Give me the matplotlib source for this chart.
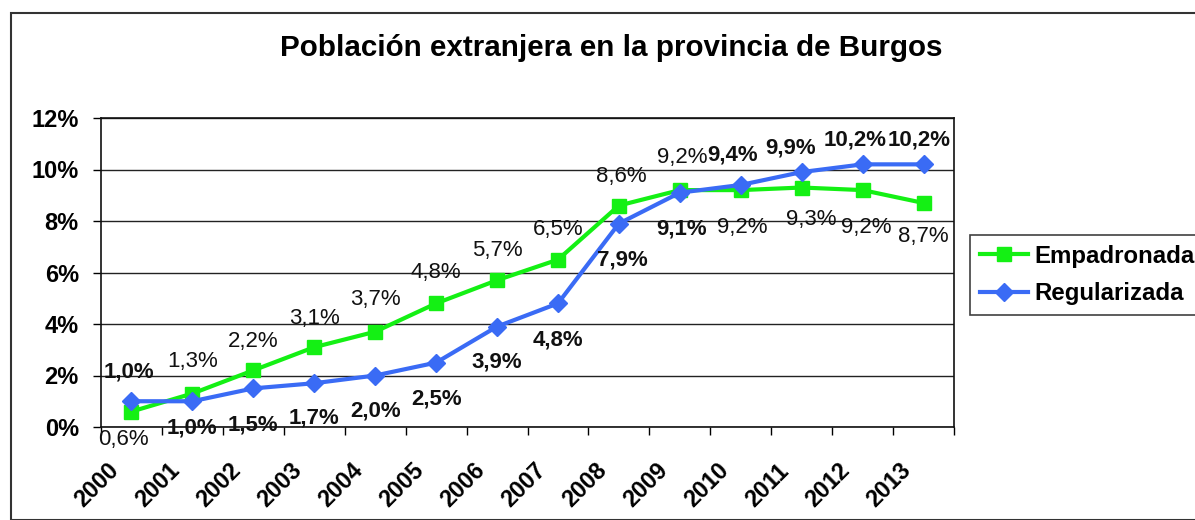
import matplotlib.pyplot as plt
from matplotlib.patches import Rectangle
from matplotlib.ticker import FuncFormatter, MultipleLocator

plt.rcParams['font.family'] = ['Liberation Sans', 'DejaVu Sans']

years = ['2000', '2001', '2002', '2003', '2004', '2005', '2006',
         '2007', '2008', '2009', '2010', '2011', '2012', '2013']
empadronada = [0.6, 1.3, 2.2, 3.1, 3.7, 4.8, 5.7, 6.5, 8.6, 9.2, 9.2, 9.3, 9.2, 8.7]
regularizada = [1.0, 1.0, 1.5, 1.7, 2.0, 2.5, 3.9, 4.8, 7.9, 9.1, 9.4, 9.9, 10.2, 10.2]

# label offsets in pixels (dx, dy), dy up
emp_off = [(-8, -28), (0, 32), (0, 29), (0, 29), (0, 32), (0, 31), (0, 30),
           (0, 30), (2, 29), (2, 33), (2, -37), (10, -32), (4, -37), (0, -34)]
reg_off = [(-3, 29), (0, -27), (0, -37), (0, -35), (0, -35), (0, -36), (0, -35),
           (0, -37), (3, -36), (2, -36), (-8, 30), (-11, 24), (-7, 24), (-4, 24)]

green = '#14F014'
blue = '#3A6BF5'

fig = plt.figure(figsize=(11.95, 5.2), dpi=100)
fig.patches.append(Rectangle((10.5 / 1195, 0), 1.2, 1 - 13 / 520, transform=fig.transFigure,
                             fill=False, edgecolor='#333333', linewidth=1.5))

ax = fig.add_axes([101 / 1195, 1 - 427 / 520, 853 / 1195, 309 / 520])

x = [i + 0.5 for i in range(len(years))]
ax.plot(x, empadronada, color=green, lw=3, marker='s', ms=10, label='Empadronada', zorder=3)
ax.plot(x, regularizada, color=blue, lw=3, marker='D', ms=9.5, label='Regularizada', zorder=4)

px = 72 / 100
for xi, v, (dx, dy) in zip(x, empadronada, emp_off):
    ax.annotate(f'{v:.1f}%'.replace('.', ','), (xi, v), xytext=(dx * px, dy * px),
                textcoords='offset points', ha='center', va='center', fontsize=16,
                color='#111111', zorder=5)
for xi, v, (dx, dy) in zip(x, regularizada, reg_off):
    ax.annotate(f'{v:.1f}%'.replace('.', ','), (xi, v), xytext=(dx * px, dy * px),
                textcoords='offset points', ha='center', va='center', fontsize=16,
                fontweight='bold', color='#111111', zorder=5)

ax.set_xlim(0, len(years))
ax.set_ylim(0, 12)
ax.yaxis.set_major_locator(MultipleLocator(2))
ax.yaxis.set_major_formatter(FuncFormatter(lambda v, p: f'{v:.0f}%'))
ax.grid(axis='y', color='#222222', lw=1)
ax.set_axisbelow(True)

# category ticks at the boundaries, year labels rotated below
ax.set_xticks(range(len(years) + 1))
ax.set_xticklabels([])
for xi, yr in zip(x, years):
    ax.annotate(yr, (xi, 0), xycoords=ax.get_xaxis_transform(),
                xytext=(-24 * px, -32 * px), textcoords='offset points',
                ha='right', va='top', rotation=45, rotation_mode='anchor',
                fontsize=16.8, fontweight='bold', annotation_clip=False)
ax.tick_params(axis='x', length=6, width=1, direction='out')
ax.tick_params(axis='y', length=6, width=1, labelsize=17, pad=10)
for lab in ax.get_yticklabels():
    lab.set_fontweight('bold')
for s in ax.spines.values():
    s.set_linewidth(1.2)
    s.set_color('#111111')

fig.text(611 / 1195, 1 - 48 / 520, 'Población extranjera en la provincia de Burgos',
         ha='center', va='center', fontsize=21.3, fontweight='bold')

leg = fig.legend(loc='upper left', bbox_to_anchor=(970 / 1195, 1 - 235 / 520),
                 prop={'size': 17.3, 'weight': 'bold'}, frameon=True, fancybox=False,
                 edgecolor='#111111', handlelength=2.0, handletextpad=0.3,
                 borderpad=0.4, labelspacing=0.6, borderaxespad=0)
leg.get_frame().set_linewidth(1.2)

fig.savefig('out.png', dpi=100)
